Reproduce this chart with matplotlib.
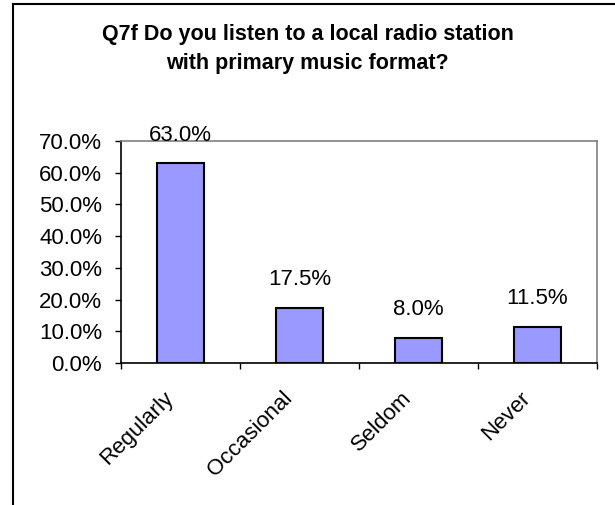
import matplotlib
matplotlib.use("Agg")
import matplotlib.pyplot as plt
from matplotlib.lines import Line2D
import matplotlib.transforms as mtransforms

categories = ["Regularly", "Occasional", "Seldom", "Never"]
values = [63.0, 17.5, 8.0, 11.5]
yticks = [0, 10, 20, 30, 40, 50, 60, 70]
title = "Q7f Do you listen to a local radio station\nwith primary music format?"

plt.rcParams['font.family'] = ['Liberation Sans', 'DejaVu Sans']

fig = plt.figure(figsize=(6.15, 5.05), dpi=100)
ax = fig.add_axes([121/615, 1-363/505, (597-121)/615, (363-141)/505])

x = list(range(len(categories)))
ax.bar(x, values, width=0.4, color="#9999FF", edgecolor="black", linewidth=1.5, zorder=3)

ax.set_xlim(-0.5, len(categories)-0.5)
ax.set_ylim(0, 70)
ax.set_yticks(yticks)
ax.set_yticklabels([f"{v:.1f}%" for v in yticks], fontsize=16)
ax.tick_params(axis='y', direction='out', length=4.5, width=1, pad=9, colors='black')

ax.set_xticks([i - 0.5 for i in range(len(categories)+1)])
ax.set_xticklabels([])
ax.tick_params(axis='x', which='major', direction='out', length=4.5, width=1)
ax.set_xticks(x, minor=True)
ax.set_xticklabels(categories, minor=True, rotation=45, ha='right', va='center',
                   rotation_mode='anchor', fontsize=16)
ax.tick_params(axis='x', which='minor', length=0, pad=23)
shift = mtransforms.ScaledTranslation(-10/100, 0, fig.dpi_scale_trans)
for lab in ax.get_xticklabels(minor=True):
    lab.set_transform(lab.get_transform() + shift)

for xi, v in zip(x, values):
    ax.annotate(f"{v:.1f}%", (xi, v), xytext=(0, 12.5), textcoords='offset points',
                ha='center', va='bottom', fontsize=16)

for s in ['top', 'right']:
    ax.spines[s].set_color('#808080')
    ax.spines[s].set_linewidth(1.2)
for s in ['left', 'bottom']:
    ax.spines[s].set_color('black')
    ax.spines[s].set_linewidth(1.2)

fig.text(0.5, 1-49/505, title, ha='center', va='center', fontsize=15.5,
         fontweight='bold', linespacing=1.45)

fig.add_artist(Line2D([13/615, 13/615], [0, 1-4/505], transform=fig.transFigure, color='black', linewidth=1.5))
fig.add_artist(Line2D([13/615, 1], [1-4/505, 1-4/505], transform=fig.transFigure, color='black', linewidth=1.5))

fig.savefig("out.png", dpi=100)
